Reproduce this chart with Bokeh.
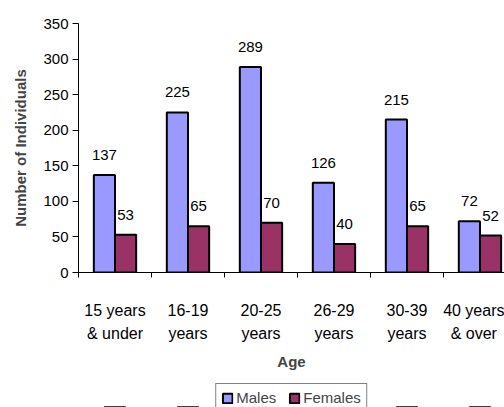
import numpy as np
from bokeh.plotting import figure
from bokeh.layouts import column
from bokeh.models import ColumnDataSource, FixedTicker, Range1d, Legend, LegendItem
from bokeh.transform import dodge
from bokeh.core.properties import value
from bokeh.embed import file_html
from bokeh.resources import INLINE

categories = ["15 years\n& under", "16-19\nyears", "20-25\nyears", "26-29\nyears", "30-39\nyears", "40 years\n& over"]
males = [137, 225, 289, 126, 215, 72]
females = [53, 65, 70, 40, 65, 52]
y_ticks = [0, 50, 100, 150, 200, 250, 300, 350]
series_names = ["Males", "Females"]
series_fields = ["males", "females"]
label_fields = ["mlab", "flab"]
series_colors = ["#9999FF", "#993366"]

FONT = "Liberation Sans"
centers = [i + 0.5 for i in range(len(categories))]
src = ColumnDataSource(dict(x=centers, males=males, females=females,
                            mlab=[str(v) for v in males], flab=[str(v) for v in females]))

p = figure(frame_width=426, frame_height=249, output_backend="svg", toolbar_location=None,
           x_range=Range1d(0, 5.836), y_range=Range1d(0, 350),
           min_border_left=78, min_border_right=0, min_border_top=23, min_border_bottom=111)
p.outline_line_color = None
p.xgrid.grid_line_color = None
p.ygrid.grid_line_color = None
p.background_fill_color = "white"
p.border_fill_color = "white"

bw = 0.29
offsets = [-0.145, 0.145]
for fld, lab, col, off in zip(series_fields, label_fields, series_colors, offsets):
    p.vbar(x=dodge("x", off), top=fld, width=bw, source=src,
           fill_color=col, line_color="black", line_width=2)
    p.text(x=dodge("x", off), y=fld, text=lab, source=src, y_offset=-20,
           text_align="center", text_baseline="middle", text_font=value(FONT),
           text_font_size="15px", text_color="black")

# y axis
ya = p.yaxis[0]
ya.ticker = FixedTicker(ticks=y_ticks, minor_ticks=[])
ya.axis_label = "Number of Individuals"
ya.axis_label_text_font = FONT
ya.axis_label_text_font_size = "15px"
ya.axis_label_text_font_style = "bold"
ya.axis_label_standoff = 11
ya.major_label_text_font = FONT
ya.major_label_text_font_size = "15px"
ya.major_label_text_color = "black"
ya.major_tick_out = 6
ya.major_tick_in = 0
ya.major_label_standoff = 4
ya.axis_line_color = "black"
ya.major_tick_line_color = "black"

# x axis
xa = p.xaxis[0]
xa.ticker = FixedTicker(ticks=centers, minor_ticks=list(range(len(categories) + 1)))
xa.major_label_overrides = {c: lab for c, lab in zip(centers, categories)}
xa.major_tick_line_color = None
xa.major_tick_out = 0
xa.major_tick_in = 0
xa.minor_tick_out = 5
xa.minor_tick_in = 0
xa.minor_tick_line_color = "black"
xa.axis_line_color = "black"
xa.major_label_standoff = 24
xa.major_label_text_font = FONT
xa.major_label_text_font_size = "16px"
xa.major_label_text_color = "black"
xa.major_label_text_line_height = 1.4
xa.axis_label = "Age"
xa.axis_label_text_font = FONT
xa.axis_label_text_font_size = "15px"
xa.axis_label_text_font_style = "bold"
xa.axis_label_standoff = 8

# legend strip below the chart (its bars lie out of view, only the legend shows)
lg = figure(width=504, height=24, output_backend="svg", toolbar_location=None,
            x_range=Range1d(0, 5.836), y_range=Range1d(1000, 1001),
            x_axis_location=None, y_axis_location=None,
            min_border_left=78, min_border_right=0, min_border_top=0, min_border_bottom=0)
lg.outline_line_color = None
lg.xgrid.grid_line_color = None
lg.ygrid.grid_line_color = None
items = []
for name, fld, col in zip(series_names, series_fields, series_colors):
    r = lg.vbar(x="x", top=fld, width=bw, source=src,
                fill_color=col, line_color="black", line_width=2)
    items.append(LegendItem(label=name, renderers=[r]))
legend = Legend(items=items, orientation="horizontal", location="top_center",
                label_text_font=FONT, label_text_font_size="15px",
                glyph_width=12, glyph_height=12, label_standoff=3, spacing=12,
                padding=5, margin=0, border_line_color="black", border_line_width=1,
                label_height=17, background_fill_color="white")
lg.add_layout(legend, "center")

layout = column(p, lg, spacing=0)
open("out.html", "w").write(file_html(layout, INLINE))
